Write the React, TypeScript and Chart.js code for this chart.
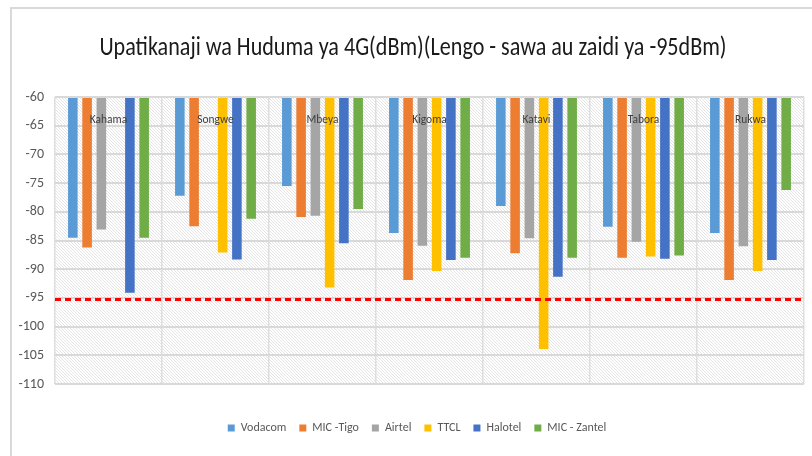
import React, { useEffect, useRef } from "react";
import { Chart, registerables } from "chart.js";

Chart.register(...registerables);

const categories = ["Kahama", "Songwe", "Mbeya", "Kigoma", "Katavi", "Tabora", "Rukwa"];
const vodacom = [-84.5, -77.2, -75.5, -83.7, -79.0, -82.6, -83.7];
const micTigo = [-86.2, -82.5, -80.9, -91.9, -87.2, -88.0, -91.9];
const airtel = [-83.1, null, -80.7, -85.9, -84.6, -85.2, -86.0];
const ttcl = [null, -87.1, -93.2, -90.3, -103.9, -87.8, -90.3];
const halotel = [-94.1, -88.3, -85.5, -88.4, -91.3, -88.2, -88.4];
const micZantel = [-84.5, -81.2, -79.5, -88.0, -88.0, -87.6, -76.2];
const targetValue = -95.3;
const barBase = -60;
const yMin = -110;
const yMax = -60;
const titleText = "Upatikanaji wa Huduma ya 4G(dBm)(Lengo - sawa au zaidi ya -95dBm)";

const FONT = "Carlito, 'Liberation Sans Narrow', 'DejaVu Sans Condensed', sans-serif";

function makePattern(ctx: CanvasRenderingContext2D) {
  const c = document.createElement("canvas");
  c.width = 6;
  c.height = 6;
  const p = c.getContext("2d")!;
  p.fillStyle = "#ffffff";
  p.fillRect(0, 0, 6, 6);
  p.strokeStyle = "#e4e4e4";
  p.lineWidth = 1;
  p.beginPath();
  for (let k = -6; k <= 12; k += 3) {
    p.moveTo(k, 0);
    p.lineTo(k + 6, 6);
  }
  p.stroke();
  return ctx.createPattern(c, "repeat");
}

const backgroundPlugin = {
  id: "hatchBg",
  afterLayout(chart: any) {
    if (chart.legend) {
      chart.legend.left += 15;
      chart.legend.right += 15;
    }
  },
  beforeDraw(chart: any) {
    const { ctx, chartArea } = chart;
    const pat = makePattern(ctx);
    ctx.save();
    ctx.fillStyle = pat || "#f4f4f4";
    ctx.fillRect(chartArea.left, chartArea.top, chartArea.right - chartArea.left, chartArea.bottom - chartArea.top);
    ctx.restore();
  },
};

const titlePlugin = {
  id: "narrowTitle",
  afterDraw(chart: any) {
    const { ctx } = chart;
    ctx.save();
    ctx.fillStyle = "#1a1a1a";
    ctx.font = "26px " + FONT;
    ctx.textAlign = "center";
    ctx.textBaseline = "middle";
    ctx.translate(413, 48);
    ctx.scale(0.85, 1);
    ctx.fillText(titleText, 0, 0);
    ctx.restore();
  },
};

const overlayPlugin = {
  id: "overlay",
  afterDatasetsDraw(chart: any) {
    const { ctx, chartArea, scales } = chart;
    const y = scales.y.getPixelForValue(targetValue);
    ctx.save();
    ctx.strokeStyle = "#ff0000";
    ctx.lineWidth = 3;
    ctx.setLineDash([6, 4]);
    ctx.beginPath();
    ctx.moveTo(chartArea.left, y);
    ctx.lineTo(chartArea.right, y);
    ctx.stroke();
    ctx.setLineDash([]);
    ctx.fillStyle = "#404040";
    ctx.font = "13px " + FONT;
    ctx.textAlign = "center";
    ctx.textBaseline = "middle";
    categories.forEach((c, i) => {
      const x = scales.x.getPixelForValue(i);
      ctx.save();
      ctx.translate(x, chartArea.top + 23);
      ctx.scale(0.88, 1);
      ctx.fillText(c, 0, 0);
      ctx.restore();
    });
    ctx.restore();
  },
};

export default function App() {
  const ref = useRef<HTMLCanvasElement | null>(null);
  useEffect(() => {
    if (!ref.current) return;
    const mk = (label: string, data: (number | null)[], color: string) => ({
      label,
      data,
      backgroundColor: color,
      borderWidth: 0,
      base: barBase,
      categoryPercentage: 0.8,
      barPercentage: 0.67,
    });
    const chart = new Chart(ref.current, {
      type: "bar",
      data: {
        labels: categories,
        datasets: [
          mk("Vodacom", vodacom, "#5B9BD5"),
          mk("MIC -Tigo", micTigo, "#ED7D31"),
          mk("Airtel", airtel, "#A5A5A5"),
          mk("TTCL", ttcl, "#FFC000"),
          mk("Halotel", halotel, "#4472C4"),
          mk("MIC - Zantel", micZantel, "#70AD47"),
        ],
      },
      options: {
        animation: false,
        responsive: false,
        maintainAspectRatio: false,
        layout: { padding: { left: 0, right: 8, top: 97, bottom: 12 } },
        plugins: {
          title: { display: false },
          legend: {
            position: "bottom",
            labels: {
              boxWidth: 7,
              boxHeight: 7,
              color: "#595959",
              font: { family: FONT, size: 12 },
              padding: 13,
            },
          },
          tooltip: { enabled: false },
        },
        scales: {
          x: {
            ticks: { display: false },
            grid: { color: "#dedede", lineWidth: 1.5, drawTicks: false, offset: true },
            border: { display: false },
            afterFit: (s: any) => {
              s.height = 25;
            },
          },
          y: {
            min: yMin,
            max: yMax,
            ticks: {
              stepSize: 5,
              color: "#595959",
              font: { family: FONT, size: 14 },
              padding: 11,
            },
            grid: { color: "#d9d9d9", lineWidth: 2, drawTicks: false },
            border: { display: false },
            afterFit: (s: any) => {
              s.width = 55;
            },
          },
        },
      },
      plugins: [backgroundPlugin, overlayPlugin, titlePlugin],
    });
    return () => chart.destroy();
  }, []);
  return (
    <div style={{ position: "fixed", left: 0, top: 0, width: 812, height: 456, background: "#fff", overflow: "hidden" }}>
      <div
        style={{
          position: "absolute",
          left: 10,
          top: 7,
          width: 840,
          height: 480,
          border: "2px solid #d9d9d9",
          boxSizing: "border-box",
        }}
      />
      <canvas ref={ref} width={812} height={456} style={{ position: "absolute", left: 0, top: 0 }} />
    </div>
  );
}
